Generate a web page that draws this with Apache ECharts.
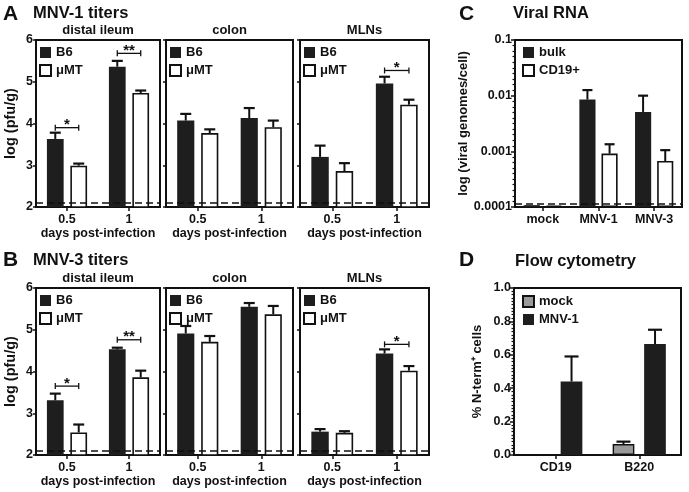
<!DOCTYPE html>
<html><head><meta charset="utf-8">
<script src="https://cdn.jsdelivr.net/npm/echarts@6/dist/echarts.min.js"></script>
<style>html,body{margin:0;padding:0;background:#fff}#c{width:689px;height:492px}</style>
</head><body><div id="c"></div>
<script>
// ---------------- DATA ----------------
const days = ['0.5', '1'];
const titerTicks = ['2', '3', '4', '5', '6'];
const titerDetectionLimit = 2.1;

// MNV-1 titers (log pfu/g): bar value and top of error bar
const mnv1IleumB6 = [3.63, 5.36],   mnv1IleumB6Err = [3.78, 5.50];
const mnv1IleumMuMT = [2.99, 4.73], mnv1IleumMuMTErr = [3.04, 4.79];
const mnv1ColonB6 = [4.07, 4.13],   mnv1ColonB6Err = [4.23, 4.37];
const mnv1ColonMuMT = [3.77, 3.91], mnv1ColonMuMTErr = [3.86, 4.07];
const mnv1MlnB6 = [3.20, 4.96],     mnv1MlnB6Err = [3.47, 5.12];
const mnv1MlnMuMT = [2.86, 4.45],   mnv1MlnMuMTErr = [3.05, 4.57];

// MNV-3 titers (log pfu/g)
const mnv3IleumB6 = [3.31, 4.53],   mnv3IleumB6Err = [3.47, 4.57];
const mnv3IleumMuMT = [2.54, 3.86], mnv3IleumMuMTErr = [2.73, 4.02];
const mnv3ColonB6 = [4.91, 5.55],   mnv3ColonB6Err = [5.09, 5.64];
const mnv3ColonMuMT = [4.71, 5.37], mnv3ColonMuMTErr = [4.85, 5.57];
const mnv3MlnB6 = [2.56, 4.43],     mnv3MlnB6Err = [2.62, 4.53];
const mnv3MlnMuMT = [2.53, 4.02],   mnv3MlnMuMTErr = [2.57, 4.13];

// significance brackets: [category index, bracket level]
const mnv1IleumSig = [[0, 3.90], [1, 5.68]], mnv1IleumSigText = ['*', '**'];
const mnv1MlnSig = [[1, 5.27]], mnv1MlnSigText = ['*'];
const mnv3IleumSig = [[0, 3.65], [1, 4.76]], mnv3IleumSigText = ['*', '**'];
const mnv3MlnSig = [[1, 4.65]], mnv3MlnSigText = ['*'];

// Viral RNA (viral genomes / cell), shown on a log10 axis starting at 0.0001
const rnaCats = ['mock', 'MNV-1', 'MNV-3'];
const rnaTicks = ['0.0001', '0.001', '0.01', '0.1'];
const rnaAxisMin = 0.0001;
const rnaBulk = [0.000108, 0.0085, 0.0051],    rnaBulkErr = [0.000108, 0.0126, 0.0100];
const rnaCD19 = [0.000106, 0.00091, 0.00067],  rnaCD19Err = [0.000106, 0.00134, 0.00105];
const rnaDetectionLimit = 0.000115;

// Flow cytometry (% N-term+ cells)
const flowCats = ['CD19', 'B220'];
const flowTicks = ['0.0', '0.2', '0.4', '0.6', '0.8', '1.0'];
const flowMock = [0, 0.066],  flowMockErr = [0, 0.080];
const flowMnv1 = [0.44, 0.664], flowMnv1Err = [0.59, 0.75];

// ---------------- STYLE / LAYOUT ----------------
const INK = '#111';
const FONT = "'Liberation Sans', Arial, Helvetica, sans-serif";
const DARK = '#1e1e1e';
const GREY = '#9a9a9a';
const txt = (size) => ({color: INK, fontSize: size, fontWeight: 'bold', fontFamily: FONT});
// decades above the axis minimum (log10 scale)
const dec = v => Math.log10(v / rnaAxisMin);
const decs = a => a.map(dec);

const grids = [
  {left: 36,  top: 40,  width: 124, height: 167},  // 0 A ileum
  {left: 166, top: 40,  width: 127, height: 167},  // 1 A colon
  {left: 300, top: 40,  width: 129, height: 167},  // 2 A MLN
  {left: 36,  top: 288, width: 124, height: 167},  // 3 B ileum
  {left: 166, top: 288, width: 127, height: 167},  // 4 B colon
  {left: 300, top: 288, width: 129, height: 167},  // 5 B MLN
  {left: 515, top: 40,  width: 167, height: 167},  // 6 C
  {left: 514, top: 288, width: 167, height: 167}   // 7 D
].map(g => Object.assign({show: true, borderColor: INK, borderWidth: 2, backgroundColor: 'transparent'}, g));

const axisLine = {show: true, lineStyle: {color: INK, width: 2}};

function xCat(gi, data, name) {
  return {
    type: 'category', gridIndex: gi, data,
    axisLine, axisTick: {show: true, alignWithLabel: true, length: 4, lineStyle: {color: INK, width: 1.5}},
    axisLabel: Object.assign({margin: 6}, txt(12.5)),
    name, nameLocation: 'middle', nameGap: 20, nameTextStyle: txt(12.5)
  };
}
function yTiter(gi, showLabel) {
  return {
    type: 'value', gridIndex: gi, min: 2, max: 6, interval: 1,
    axisLine, splitLine: {show: false},
    axisTick: {show: true, length: 3, lineStyle: {color: INK, width: 1.5}},
    axisLabel: Object.assign({show: showLabel, margin: 3, formatter: v => titerTicks[Math.round(v - 2)]}, txt(12.5)),
    name: showLabel ? 'log (pfu/g)' : '', nameLocation: 'middle', nameGap: 18, nameTextStyle: txt(14.5)
  };
}

const BW = {titer: ['27%', '40%', 0.189], rna: ['29%', '37%', 0.199], flow: ['26%', '45%', 0.189]};

function errSeries(gi, vals, errs, sign, off, cap) {
  return {
    type: 'custom', xAxisIndex: gi, yAxisIndex: gi, z: 4, silent: true,
    data: vals.map((v, i) => [i, v, errs[i]]),
    renderItem: (params, api) => {
      const v = api.value(1), e = api.value(2);
      if (!(e > v)) return null;
      const band = api.size([1, 0])[0];
      const p0 = api.coord([api.value(0), v]);
      const p1 = api.coord([api.value(0), e]);
      const x = p0[0] + sign * band * off;
      return {type: 'group', children: [
        {type: 'line', shape: {x1: x, y1: p0[1], x2: x, y2: p1[1]}, style: {stroke: INK, lineWidth: 2}},
        {type: 'line', shape: {x1: x - cap / 2, y1: p1[1], x2: x + cap / 2, y2: p1[1]}, style: {stroke: INK, lineWidth: 2.2}}
      ]};
    }
  };
}
function sigSeries(gi, pts, labels, off) {
  return {
    type: 'custom', xAxisIndex: gi, yAxisIndex: gi, z: 5, silent: true,
    data: pts,
    renderItem: (params, api) => {
      const band = api.size([1, 0])[0];
      const p = api.coord([api.value(0), api.value(1)]);
      const h = band * off;
      return {type: 'group', children: [
        {type: 'line', shape: {x1: p[0] - h, y1: p[1], x2: p[0] + h, y2: p[1]}, style: {stroke: INK, lineWidth: 1.3}},
        {type: 'line', shape: {x1: p[0] - h, y1: p[1] - 3, x2: p[0] - h, y2: p[1] + 3}, style: {stroke: INK, lineWidth: 1.3}},
        {type: 'line', shape: {x1: p[0] + h, y1: p[1] - 3, x2: p[0] + h, y2: p[1] + 3}, style: {stroke: INK, lineWidth: 1.3}},
        {type: 'text', x: p[0], y: p[1] - 10, style: {text: labels[params.dataIndex], textAlign: 'center', textVerticalAlign: 'top', font: 'bold 15px ' + FONT, fill: INK}}
      ]};
    }
  };
}
function dashLine(y) {
  return {silent: true, symbol: 'none', label: {show: false}, animation: false,
    lineStyle: {color: INK, width: 1.5, type: [7, 4], opacity: 1}, data: [{yAxis: y}]};
}
function barPair(gi, bw, n1, v1, e1, s1, n2, v2, e2, s2, limit, cap) {
  return [
    {type: 'bar', name: n1, xAxisIndex: gi, yAxisIndex: gi, data: v1, barWidth: bw[0], barGap: bw[1], itemStyle: s1, z: 2,
     markLine: limit != null ? dashLine(limit) : undefined},
    {type: 'bar', name: n2, xAxisIndex: gi, yAxisIndex: gi, data: v2, barWidth: bw[0], barGap: bw[1], itemStyle: s2, z: 2},
    errSeries(gi, v1, e1, -1, bw[2], cap),
    errSeries(gi, v2, e2, 1, bw[2], cap)
  ];
}
const sB6 = {color: DARK};
const sMu = {color: '#fff', borderColor: INK, borderWidth: 1.6};

function legend(names, left, top) {
  return {data: names, left, top, orient: 'vertical', itemWidth: 11, itemHeight: 11, itemGap: 5, icon: 'rect',
    padding: 0, selectedMode: false, textStyle: txt(13)};
}

const titerPanels = [
  [0, mnv1IleumB6, mnv1IleumB6Err, mnv1IleumMuMT, mnv1IleumMuMTErr],
  [1, mnv1ColonB6, mnv1ColonB6Err, mnv1ColonMuMT, mnv1ColonMuMTErr],
  [2, mnv1MlnB6, mnv1MlnB6Err, mnv1MlnMuMT, mnv1MlnMuMTErr],
  [3, mnv3IleumB6, mnv3IleumB6Err, mnv3IleumMuMT, mnv3IleumMuMTErr],
  [4, mnv3ColonB6, mnv3ColonB6Err, mnv3ColonMuMT, mnv3ColonMuMTErr],
  [5, mnv3MlnB6, mnv3MlnB6Err, mnv3MlnMuMT, mnv3MlnMuMTErr]
];

const xAxes = [], yAxes = [], series = [], legends = [];
titerPanels.forEach(([gi, b, be, m, me]) => {
  xAxes.push(xCat(gi, days, 'days post-infection'));
  yAxes.push(yTiter(gi, gi === 0 || gi === 3));
  series.push(...barPair(gi, BW.titer, 'B6', b, be, sB6, 'μMT', m, me, sMu, titerDetectionLimit, 11));
  legends.push(legend(['B6', 'μMT'], grids[gi].left + 3, grids[gi].top + 6));
});
series.push(sigSeries(0, mnv1IleumSig, mnv1IleumSigText, BW.titer[2]));
series.push(sigSeries(2, mnv1MlnSig, mnv1MlnSigText, BW.titer[2]));
series.push(sigSeries(3, mnv3IleumSig, mnv3IleumSigText, BW.titer[2]));
series.push(sigSeries(5, mnv3MlnSig, mnv3MlnSigText, BW.titer[2]));

// C
xAxes.push(xCat(6, rnaCats, ''));
yAxes.push({
  type: 'value', gridIndex: 6, min: 0, max: 3, interval: 1,
  axisLine, splitLine: {show: false}, minorSplitLine: {show: false},
  axisTick: {show: true, length: 4, lineStyle: {color: INK, width: 1.5}},
  minorTick: {show: true, splitNumber: 10, length: 2.5, lineStyle: {color: INK, width: 1.2}},
  axisLabel: Object.assign({margin: 3, formatter: v => rnaTicks[Math.round(v)]}, txt(12.5)),
  name: 'log (viral genomes/cell)', nameLocation: 'middle', nameGap: 37, nameTextStyle: txt(13)
});
series.push(...barPair(6, BW.rna, 'bulk', decs(rnaBulk), decs(rnaBulkErr), sB6, 'CD19+', decs(rnaCD19), decs(rnaCD19Err), sMu,
  dec(rnaDetectionLimit), 10));
legends.push(legend(['bulk', 'CD19+'], 522, 46));

// D
xAxes.push(xCat(7, flowCats, ''));
yAxes.push({
  type: 'value', gridIndex: 7, min: 0, max: 1, interval: 0.2,
  axisLine, splitLine: {show: false}, minorSplitLine: {show: false},
  axisTick: {show: true, length: 4, lineStyle: {color: INK, width: 1.5}},
  minorTick: {show: true, splitNumber: 10, length: 2.5, lineStyle: {color: INK, width: 1.2}},
  axisLabel: Object.assign({margin: 3, formatter: v => flowTicks[Math.round(v / 0.2)]}, txt(12.5)),
  name: '% N-term⁺ cells', nameLocation: 'middle', nameGap: 30, nameTextStyle: txt(13)
});
series.push(...barPair(7, BW.flow, 'mock', flowMock, flowMockErr, {color: GREY, borderColor: INK, borderWidth: 1.4},
  'MNV-1', flowMnv1, flowMnv1Err, sB6, null, 14));
legends.push(legend(['mock', 'MNV-1'], 522, 295));

function label(text, x, y, size, align) {
  return {type: 'text', x, y, silent: true,
    style: {text, font: 'bold ' + size + 'px ' + FONT, fill: INK, textAlign: align || 'left', textVerticalAlign: 'top'}};
}
const graphics = [
  label('A', 3, 4, 21), label('MNV-1 titers', 33, 5, 16.5),
  label('distal ileum', 98, 24, 13, 'center'), label('colon', 229.5, 24, 13, 'center'), label('MLNs', 364.5, 24, 13, 'center'),
  label('B', 3, 250, 21), label('MNV-3 titers', 33, 252, 16.5),
  label('distal ileum', 98, 272, 13, 'center'), label('colon', 229.5, 272, 13, 'center'), label('MLNs', 364.5, 272, 13, 'center'),
  label('C', 459, 4, 21), label('Viral RNA', 513, 5, 16.5),
  label('D', 459, 250, 21), label('Flow cytometry', 515, 253, 16.5)
];

const chart = echarts.init(document.getElementById('c'), null, {renderer: 'canvas'});
chart.setOption({
  animation: false,
  backgroundColor: '#fff',
  grid: grids, xAxis: xAxes, yAxis: yAxes, series, legend: legends, graphic: graphics,
  tooltip: {show: false}
});
</script></body></html>
